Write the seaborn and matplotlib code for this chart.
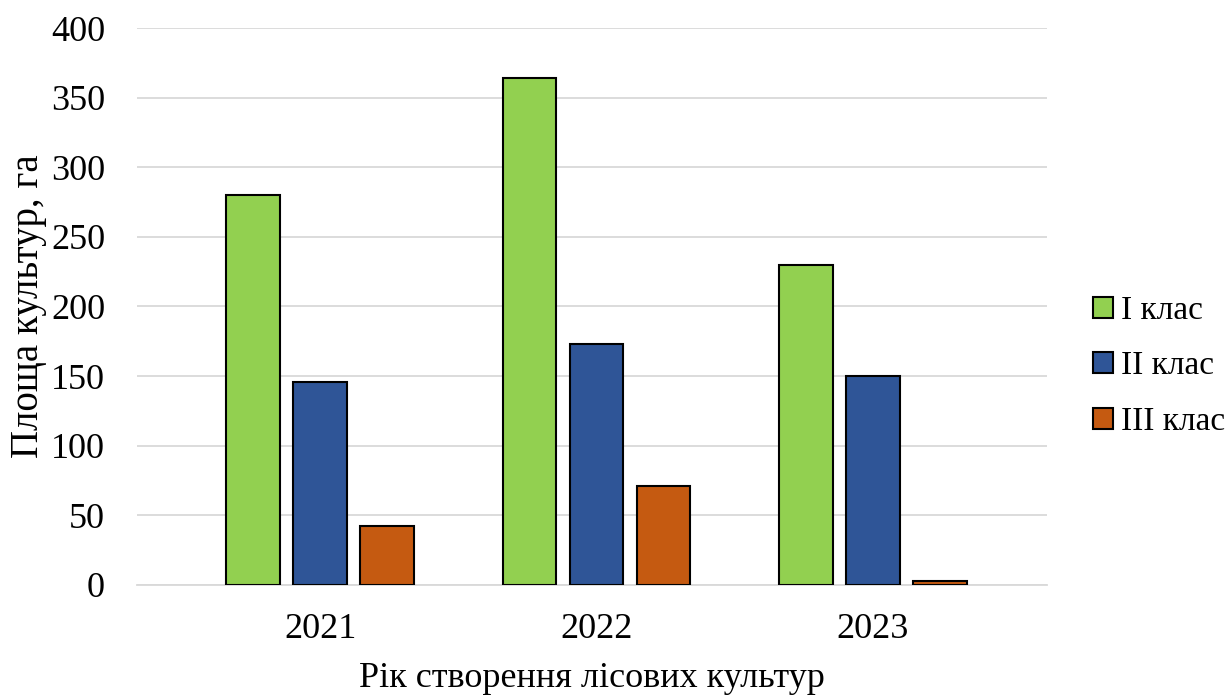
import pandas as pd
import seaborn as sns
from matplotlib import pyplot as plt

years = ["2021", "2022", "2023"]
classes = ["I клас", "II клас", "III клас"]
class_1 = [280, 364, 230]
class_2 = [146, 173, 150]
class_3 = [42, 71, 3]

df = pd.DataFrame({
    "year": years * 3,
    "cls": [c for c in classes for _ in years],
    "area": class_1 + class_2 + class_3,
})

sns.set_theme(style="white")
plt.rcParams["font.family"] = ["Liberation Serif", "DejaVu Serif"]
plt.rcParams["text.color"] = "black"

fig = plt.figure(figsize=(12.3, 6.95), dpi=100)
ax = fig.add_axes([0.1114, 0.1583, 0.7398, 0.8014])

palette = {"I клас": "#92D050", "II клас": "#2F5597", "III клас": "#C55A11"}
sns.barplot(df, x="year", y="area", hue="cls", palette=palette, ax=ax,
            width=0.727, gap=0.2, edgecolor="black", linewidth=1.5,
            saturation=1, zorder=3)

ax.set_ylim(0, 400)
ax.set_yticks(range(0, 401, 50))
ax.set_xlim(-0.662, 2.629)
ax.yaxis.grid(True, color="#D9D9D9", linewidth=1.3, zorder=0)
ax.set_axisbelow(True)
for s in ["top", "right", "left"]:
    ax.spines[s].set_visible(False)
ax.spines["bottom"].set_color("#D9D9D9")
ax.spines["bottom"].set_linewidth(1.3)
ax.tick_params(axis="both", length=0, labelsize=26, colors="black")
ax.tick_params(axis="y", pad=23)
ax.tick_params(axis="x", pad=20)
ax.set_xlabel("Рік створення лісових культур", fontsize=26, color="black", labelpad=12)
ax.set_ylabel("Площа культур, га", fontsize=28, color="black", labelpad=3)

ax.legend(title=None, loc="center left", bbox_to_anchor=(1.025, 0.393),
          frameon=False, fontsize=24, handlelength=0.6, handleheight=0.6,
          handletextpad=0.25, labelspacing=0.75, borderaxespad=0.3,
          labelcolor="black")

fig.savefig("out.png", dpi=100)
